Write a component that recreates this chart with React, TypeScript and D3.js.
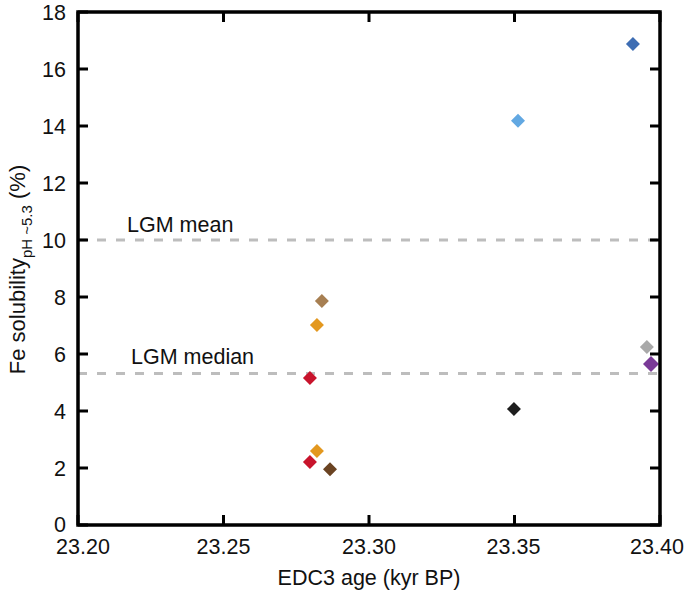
import React from "react";
import * as d3 from "d3";

const ages = [23.3907, 23.3512, 23.2838, 23.2821, 23.2797, 23.2821, 23.2797, 23.2866, 23.3498, 23.3955, 23.3969];
const solubility = [16.88, 14.18, 7.86, 7.02, 5.16, 2.6, 2.21, 1.96, 4.07, 6.25, 5.65];
const colors = ["#3e6db3", "#62a8e2", "#a77f52", "#e3981f", "#c8142c", "#e3981f", "#c8142c", "#6a4322", "#1e1e1e", "#a9a9a9", "#7a3a97"];
const sizes = [7, 7, 7, 7, 7, 7, 7, 7, 7, 7, 8];
const xTicks = [23.2, 23.25, 23.3, 23.35, 23.4];
const xTickShift = [5, 0, 0, -1, -3];
const yTicks = [0, 2, 4, 6, 8, 10, 12, 14, 16, 18];
const refValues = [10, 5.32];
const refLabels = ["LGM mean", "LGM median"];

const W = 685, H = 591;
const L = 78, R = 660, T = 12, B = 525;
const FONT = "'Liberation Sans', Arial, Helvetica, sans-serif";
const FS = 21.5;

export default function App() {
  const x = d3.scaleLinear().domain([23.2, 23.4]).range([L, R]);
  const y = d3.scaleLinear().domain([0, 18]).range([B, T]);
  const tickLen = 10;
  return (
    <svg width={W} height={H} style={{ position: "absolute", left: 0, top: 0 }} fontFamily={FONT}>
      <rect x={0} y={0} width={W} height={H} fill="#fff" />
      {refValues.map((v, i) => (
        <g key={"ref" + i}>
          <line x1={L} x2={R} y1={y(v)} y2={y(v)} stroke="#bdbdbd" strokeWidth={3} strokeDasharray="9,10" />
          <text x={i === 0 ? 127 : 131} y={y(v) - (i === 0 ? 8 : 9)} fontSize={FS} fill="#111">{refLabels[i]}</text>
        </g>
      ))}
      {ages.map((a, i) => {
        const cx = x(a), cy = y(solubility[i]), s = sizes[i];
        return (
          <path key={"p" + i} d={`M${cx},${cy - s}L${cx + s},${cy}L${cx},${cy + s}L${cx - s},${cy}Z`} fill={colors[i]} />
        );
      })}
      {xTicks.map((t, i) => (
        <g key={"xt" + i}>
          <line x1={x(t)} x2={x(t)} y1={B} y2={B - tickLen} stroke="#000" strokeWidth={3} />
          <line x1={x(t)} x2={x(t)} y1={T} y2={T + tickLen} stroke="#000" strokeWidth={3} />
          <text x={x(t) + xTickShift[i]} y={554} fontSize={FS} textAnchor="middle" fill="#111">{t.toFixed(2)}</text>
        </g>
      ))}
      {yTicks.map((t, i) => (
        <g key={"yt" + i}>
          <line x1={L} x2={L + tickLen} y1={y(t)} y2={y(t)} stroke="#000" strokeWidth={3} />
          <line x1={R} x2={R - tickLen} y1={y(t)} y2={y(t)} stroke="#000" strokeWidth={3} />
          <text x={66} y={y(t) + (t === 0 ? 6.5 : 7.5)} fontSize={FS} textAnchor="end" fill="#111">{t}</text>
        </g>
      ))}
      <rect x={L} y={T} width={R - L} height={B - T} fill="none" stroke="#000" strokeWidth={3.5} />
      <text x={369} y={585} fontSize={FS} textAnchor="middle" fill="#111">EDC3 age (kyr BP)</text>
      <text transform={`translate(25,${(T + B) / 2 + 1}) rotate(-90)`} fontSize={22} textAnchor="middle" fill="#111">
        Fe solubility
        <tspan fontSize={15} dy={7}>pH ~5.3</tspan>
        <tspan dy={-7}> (%)</tspan>
      </text>
    </svg>
  );
}
